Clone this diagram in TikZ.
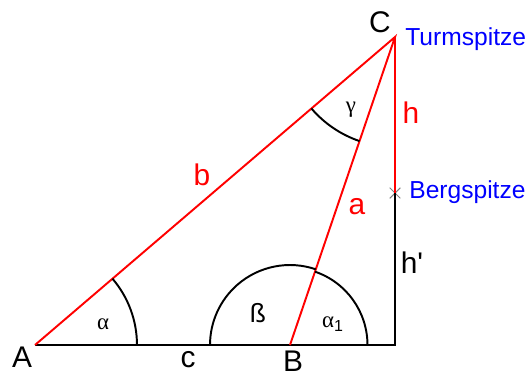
\documentclass[tikz,border=0pt]{standalone}
\usepackage{fontspec}
\setmainfont{Liberation Sans}
\newfontfamily\greekfont{Liberation Serif}
\usetikzlibrary{angles,shapes.misc}

\begin{document}
\begin{tikzpicture}[x=0.02cm, y=0.02cm,
  side/.style={red, line width=1.1pt},
  base/.style={black, line width=1.1pt},
  arcline/.style={draw=black, line width=1.1pt},
  corner/.style={font=\fontsize{17}{17}\selectfont, inner sep=0pt},
  sidelabel/.style={font=\fontsize{17}{17}\selectfont, text=red, inner sep=0pt},
  place/.style={font=\fontsize{14}{14}\selectfont, text=blue,
    inner sep=0pt, anchor=base west},
  anglelabel/.style={font=\fontsize{13}{13}\selectfont\greekfont, inner sep=0pt},
  crossmark/.style={cross out, draw=gray, minimum size=5.5pt,
    inner sep=0pt, line width=0.6pt},
]
\useasboundingbox (0,0) rectangle (531,376);

\coordinate (A) at (35,31);
\coordinate (B) at (290,31);
\coordinate (F) at (395,31);
\coordinate (C) at (395,339);
\node[crossmark] (P) at (395,183) {};

\draw[base] (A) -- (F) -- (P.center);
\draw[side] (C) -- (P.center);
\draw[side] (A) -- (C) -- (B);

\pic[arcline, angle radius=2.04cm] {angle=B--A--C};
\pic[arcline, angle radius=1.6cm] {angle=C--B--A};
\pic[arcline, angle radius=1.55cm] {angle=F--B--C};
\pic[arcline, angle radius=2.2cm] {angle=A--C--B};

\node[corner] (lA) at (22,19) {A};
\node[corner] (lB) at (293,15) {B};
\node[corner] (lC) at (380,354) {C};
\node[corner] (lc) at (188,16) {c};
\node[corner] (lh2) at (412,113) {h\textquotesingle};

\node[sidelabel] (la) at (357,169) {a};
\node[sidelabel] (lb) at (202,201) {b};
\node[sidelabel] (lh) at (411,263) {h};

\node[place] (turm) at (405,331) {Turmspitze};
\node[place] (berg) at (409,178) {Bergspitze};

\node[anglelabel] (alpha) at (103,52) {α};
\node[anglelabel, font=\fontsize{15}{15}\selectfont] (beta) at (258,63) {ß};
\node[anglelabel] (alpha1) at (333,52) {α\textsubscript{\rmfamily 1}};
\node[anglelabel] (gamma) at (351,266) {γ};

\end{tikzpicture}
\end{document}
